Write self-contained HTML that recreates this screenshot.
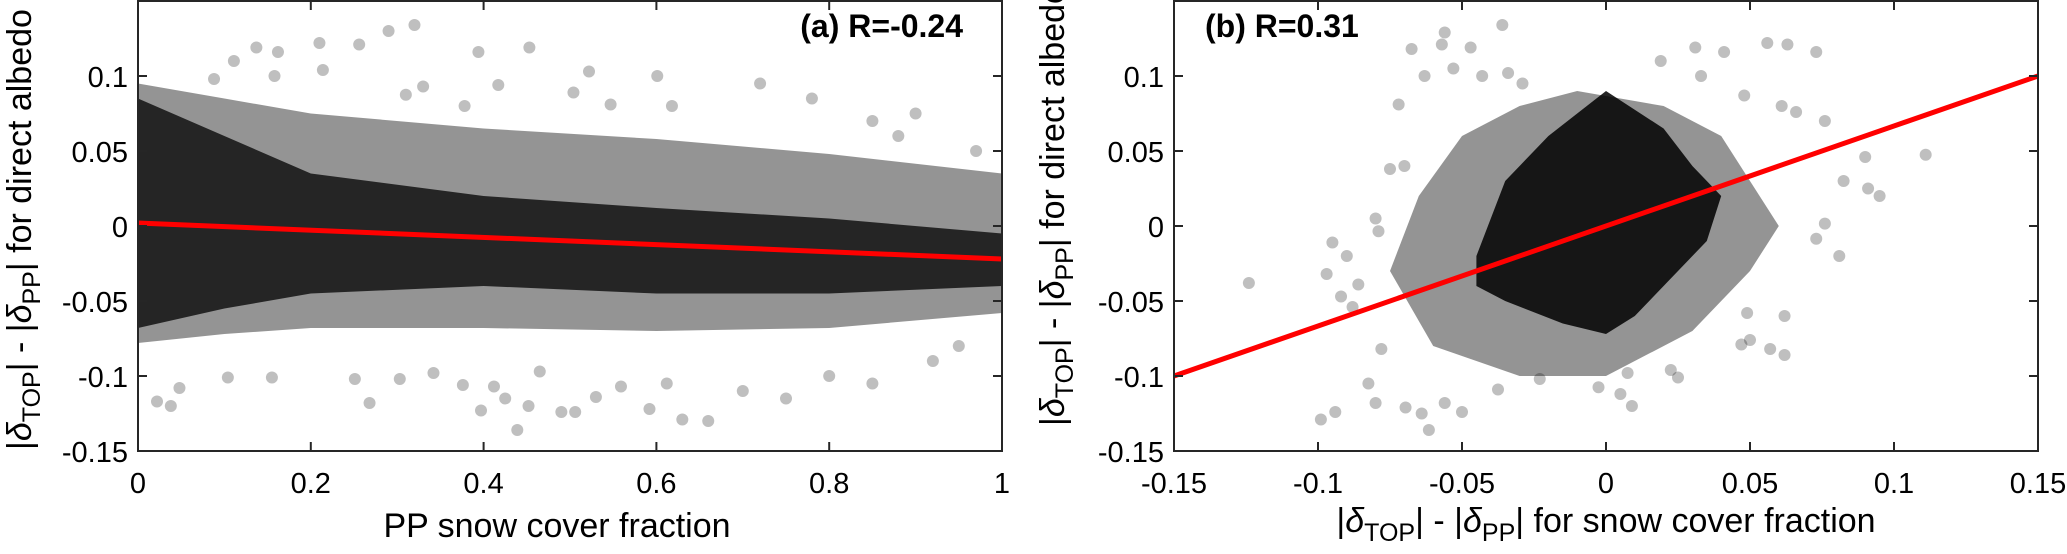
<!DOCTYPE html>
<html><head><meta charset="utf-8"><style>
html,body{margin:0;padding:0;background:#fff}
svg{display:block}
text{font-family:"Liberation Sans",Arial,sans-serif;fill:#000}
</style></head><body>
<svg id="chart" width="2067" height="554" viewBox="0 0 2067 554" xmlns="http://www.w3.org/2000/svg"></svg>
<script>
// ---- Panel (a) data ----
const aTicksX = [0, 0.2, 0.4, 0.6, 0.8, 1];
const aTickLabelsX = ["0", "0.2", "0.4", "0.6", "0.8", "1"];
const yTicks = [-0.15, -0.1, -0.05, 0, 0.05, 0.1];
const yTickLabels = ["-0.15", "-0.1", "-0.05", "0", "0.05", "0.1"];
const aOutX = [0.32,0.29,0.137,0.21,0.256,0.394,0.453,0.111,0.162,0.214,0.158,0.522,0.601,0.088,0.33,0.417,0.504,0.31,0.547,0.618,0.378,
 0.439,0.63,0.268,0.038,0.022,0.397,0.49,0.592,0.452,0.506,0.048,0.104,0.155,0.251,0.412,0.559,0.612,0.303,0.342,0.465,0.376,0.425,0.53,
 0.72,0.78,0.85,0.9,0.8,0.85,0.7,0.92,0.66,0.75,0.95,0.88,0.97];
const aOutY = [0.134,0.13,0.119,0.122,0.121,0.116,0.119,0.11,0.116,0.104,0.1,0.103,0.1,0.098,0.093,0.094,0.089,0.0875,0.081,0.08,0.08,
 -0.136,-0.129,-0.118,-0.12,-0.117,-0.123,-0.124,-0.122,-0.12,-0.124,-0.108,-0.101,-0.101,-0.102,-0.107,-0.107,-0.105,-0.102,-0.098,-0.097,-0.106,-0.115,-0.114,
 0.095,0.085,0.07,0.075,-0.1,-0.105,-0.11,-0.09,-0.13,-0.115,-0.08,0.06,0.05];
const aEnvX = [0, 0.1, 0.2, 0.4, 0.6, 0.8, 1];
const aMidLow = [-0.078,-0.072,-0.068,-0.068,-0.07,-0.068,-0.058];
const aMidHigh = [0.095,0.085,0.075,0.065,0.058,0.048,0.035];
const aCoreLow = [-0.068,-0.055,-0.045,-0.04,-0.045,-0.045,-0.04];
const aCoreHigh = [0.085,0.06,0.035,0.02,0.012,0.005,-0.005];
const aFit = [0.002, -0.022];
// ---- Panel (b) data ----
const bTicksX = [-0.15,-0.1,-0.05,0,0.05,0.1,0.15];
const bTickLabelsX = ["-0.15","-0.1","-0.05","0","0.05","0.1","0.15"];
const bOutX = [-0.036,-0.056,-0.057,-0.0675,-0.047,-0.053,-0.043,-0.034,-0.063,-0.029,-0.072,0.031,0.041,0.056,0.063,0.073,0.019,0.033,0.048,0.061,0.066,0.076,0.111,0.09,0.091,0.095,0.0825,0.081,0.073,0.076,0.062,0.057,0.05,0.047,0.062,0.049,-0.124,-0.097,-0.095,-0.09,-0.08,-0.079,-0.075,-0.07,-0.099,-0.094,-0.0615,-0.08,-0.0825,-0.0696,-0.064,-0.05,-0.056,-0.0026,0.005,0.009,0.0075,0.0225,0.025,-0.023,-0.0375,-0.078,-0.088,-0.092,-0.086];
const bOutY = [0.134,0.129,0.121,0.118,0.119,0.105,0.1,0.102,0.1,0.095,0.081,0.119,0.116,0.122,0.121,0.116,0.11,0.1,0.087,0.08,0.076,0.07,0.0475,0.046,0.025,0.02,0.03,-0.02,-0.0085,0.0016,-0.086,-0.082,-0.076,-0.079,-0.06,-0.058,-0.038,-0.032,-0.011,-0.02,0.005,-0.0035,0.038,0.04,-0.129,-0.124,-0.136,-0.118,-0.105,-0.121,-0.125,-0.124,-0.118,-0.1075,-0.112,-0.12,-0.098,-0.096,-0.101,-0.102,-0.109,-0.082,-0.054,-0.047,-0.039];
const bMidX = [-0.075,-0.065,-0.05,-0.03,-0.01,0.02,0.04,0.05,0.06,0.05,0.03,0,-0.03,-0.06];
const bMidY = [-0.03,0.02,0.06,0.08,0.09,0.08,0.06,0.03,0.0,-0.03,-0.07,-0.1,-0.1,-0.08];
const bCoreX = [-0.045,-0.035,-0.02,0,0.02,0.03,0.04,0.035,0.02,0.01,0,-0.015,-0.035,-0.045];
const bCoreY = [-0.02,0.03,0.06,0.09,0.065,0.04,0.02,-0.01,-0.04,-0.06,-0.072,-0.065,-0.05,-0.04];
const bFitX = [-0.15, 0.15];
const bFitY = [-0.1, 0.1];

const NS = "http://www.w3.org/2000/svg";
const svg = document.getElementById("chart");
const TOP = 1, BOT = 451;
function yS(v){ return BOT + (v + 0.15) / 0.3 * (TOP - BOT); }
function mk(tag, attrs, parent){ const e = document.createElementNS(NS, tag); for (const k in attrs) e.setAttribute(k, attrs[k]); (parent||svg).appendChild(e); return e; }

function axes(g, x0, x1, xs, ticks, labels, name){
  ticks.forEach((t,i)=>{
    const x = xs(t);
    const tk = mk("line",{x1:x,x2:x,y1:BOT,y2:BOT-9,stroke:"#262626","stroke-width":2},g);
    
    
    const tk2 = mk("line",{x1:x,x2:x,y1:TOP,y2:TOP+9,stroke:"#262626","stroke-width":2},g);
    
    
    const tl = mk("text",{x:x,y:493,"text-anchor":"middle","font-size":29},g);
    tl.textContent = labels[i];
    
    
  });
  yTicks.forEach((t,i)=>{
    const y = yS(t);
    const tk = mk("line",{x1:x0,x2:x0+9,y1:y,y2:y,stroke:"#262626","stroke-width":2},g);
    
    
    const tk2 = mk("line",{x1:x1,x2:x1-9,y1:y,y2:y,stroke:"#262626","stroke-width":2},g);
    
    
    const tl = mk("text",{x:x0-10,y:y+11,"text-anchor":"end","font-size":29},g);
    tl.textContent = yTickLabels[i];
    
    
  });
  const box = mk("rect",{x:x0,y:TOP,width:x1-x0,height:BOT-TOP,fill:"none",stroke:"#262626","stroke-width":2},g);
  
  
}
function dots(g, xs, X, Y, name){
  X.forEach((v,i)=>{
    const c = mk("circle",{cx:xs(v),cy:yS(Y[i]),r:6,fill:"#000","fill-opacity":0.25},g);
    
    
  });
}
function ylabel(g, x, yb){
  const t = mk("text",{transform:`translate(${x},${yb}) rotate(-90)`,"text-anchor":"start","font-size":34},g);
  t.innerHTML = '|<tspan font-style="italic">δ</tspan><tspan font-size="25" dy="9">TOP</tspan><tspan dy="-9">| - |</tspan><tspan font-style="italic">δ</tspan><tspan font-size="25" dy="9">PP</tspan><tspan dy="-9">| for direct albedo</tspan>';
  
  
}

// Panel A
const ax0 = 138, ax1 = 1002;
const xA = v => ax0 + v * (ax1 - ax0);
const gA = mk("g",{});


let pts = aEnvX.map((x,i)=>xA(x)+","+yS(aMidHigh[i])).concat(aEnvX.slice().reverse().map((x,j)=>{const i=aEnvX.length-1-j;return xA(x)+","+yS(aMidLow[i]);}));
const midA = mk("polygon",{points:pts.join(" "),fill:"#000","fill-opacity":0.42},gA);


pts = aEnvX.map((x,i)=>xA(x)+","+yS(aCoreHigh[i])).concat(aEnvX.slice().reverse().map((x,j)=>{const i=aEnvX.length-1-j;return xA(x)+","+yS(aCoreLow[i]);}));
const coreA = mk("polygon",{points:pts.join(" "),fill:"#000","fill-opacity":0.75},gA);


dots(gA, xA, aOutX, aOutY, 'panel-a');
const fitA = mk("line",{x1:xA(0),y1:yS(aFit[0]),x2:xA(1),y2:yS(aFit[1]),stroke:"#ff0000","stroke-width":5},gA);


axes(gA, ax0, ax1, xA, aTicksX, aTickLabelsX, 'panel-a');
const annA = mk("text",{x:963,y:37,"text-anchor":"end","font-size":32,"font-weight":"bold"},gA);
annA.textContent = "(a) R=-0.24";


const xlA = mk("text",{x:557,y:537,"text-anchor":"middle","font-size":34},gA);
xlA.textContent = "PP snow cover fraction";


ylabel(gA, 31, 450);

// Panel B
const bx0 = 1174, bx1 = 2038;
const xB = v => bx0 + (v + 0.15) / 0.3 * (bx1 - bx0);
const gB = mk("g",{});


const midB = mk("polygon",{points:bMidX.map((x,i)=>xB(x)+","+yS(bMidY[i])).join(" "),fill:"#000","fill-opacity":0.42},gB);


const coreB = mk("polygon",{points:bCoreX.map((x,i)=>xB(x)+","+yS(bCoreY[i])).join(" "),fill:"#000","fill-opacity":0.85},gB);


dots(gB, xB, bOutX, bOutY, 'panel-b');
const fitB = mk("line",{x1:xB(bFitX[0]),y1:yS(bFitY[0]),x2:xB(bFitX[1]),y2:yS(bFitY[1]),stroke:"#ff0000","stroke-width":5},gB);


axes(gB, bx0, bx1, xB, bTicksX, bTickLabelsX, 'panel-b');
const annB = mk("text",{x:1205,y:37,"font-size":32,"font-weight":"bold"},gB);
annB.textContent = "(b) R=0.31";


const xlB = mk("text",{x:1606,y:532,"text-anchor":"middle","font-size":34},gB);
xlB.innerHTML = '|<tspan font-style="italic">δ</tspan><tspan font-size="25" dy="9">TOP</tspan><tspan dy="-9">| - |</tspan><tspan font-style="italic">δ</tspan><tspan font-size="25" dy="9">PP</tspan><tspan dy="-9">| for snow cover fraction</tspan>';


ylabel(gB, 1064, 426);
</script>
</body></html>
